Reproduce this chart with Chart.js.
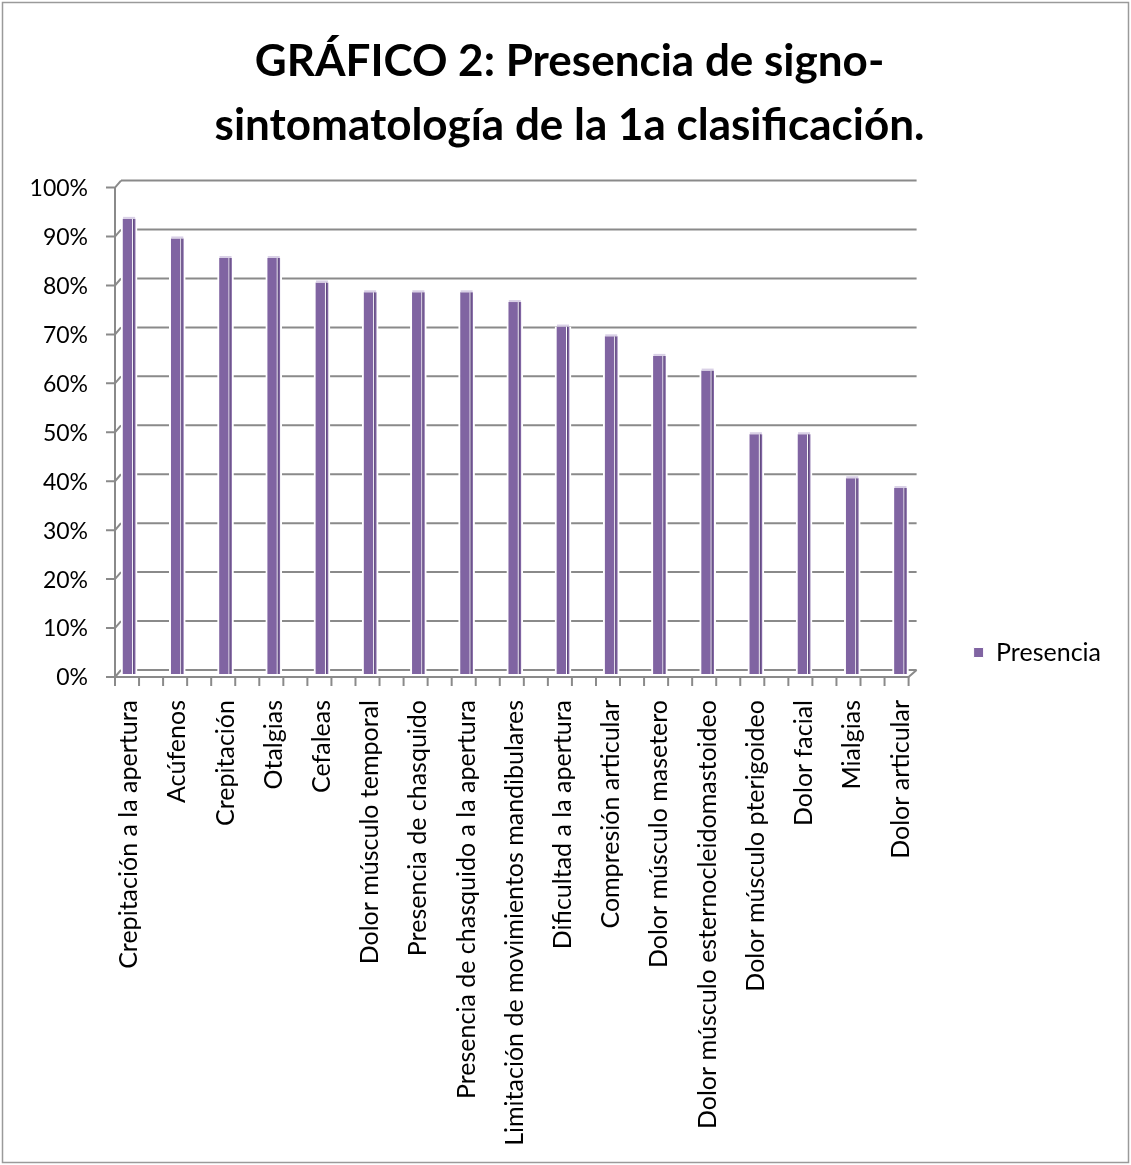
<!DOCTYPE html>
<html>
<head>
<meta charset="utf-8">
<script src="https://cdn.jsdelivr.net/npm/chart.js"></script>
<style>
  html, body { margin: 0; padding: 0; background: #fff; }
  #wrap { width: 1131px; height: 1165px; position: relative; }
</style>
</head>
<body>
<div id="wrap"><canvas id="chart"></canvas></div>
<script>
// data
const categories = [
  'Crepitación a la apertura', 'Acúfenos', 'Crepitación', 'Otalgias', 'Cefaleas',
  'Dolor músculo temporal', 'Presencia de chasquido', 'Presencia de chasquido a la apertura',
  'Limitación de movimientos mandibulares', 'Dificultad a la apertura', 'Compresión articular',
  'Dolor músculo masetero', 'Dolor músculo esternocleidomastoideo', 'Dolor músculo pterigoideo',
  'Dolor facial', 'Mialgias', 'Dolor articular'
];
const presencia = [93, 89, 85, 85, 80, 78, 78, 78, 76, 71, 69, 65, 62, 49, 49, 40, 38];
const yTicks = [0, 10, 20, 30, 40, 50, 60, 70, 80, 90, 100];
const titleLines = ['GRÁFICO 2: Presencia de signo-', 'sintomatología de la 1a clasificación.'];

const FONT = 'Lato, "Open Sans", sans-serif';
const GRID = '#8a8a8a';

// 3D-looking frame like the Excel original: front axis + back wall grid
const frame3d = {
  id: 'frame3d',
  beforeDraw(chart) {
    const ctx = chart.ctx;
    ctx.save();
    ctx.fillStyle = '#fff';
    ctx.fillRect(0, 0, chart.width, chart.height);
    ctx.strokeStyle = '#9a9a9a';
    ctx.lineWidth = 1.5;
    ctx.strokeRect(2.5, 2.5, chart.width - 5, chart.height - 5);
    ctx.restore();
  },
  beforeDatasetsDraw(chart) {
    const {ctx, chartArea: a, scales: {y}} = chart;
    const frontX = a.left + 10, backX = a.left + 16;
    const rightFront = a.right - 16, rightBack = a.right - 8;
    ctx.save();
    ctx.strokeStyle = GRID;
    ctx.lineWidth = 2;
    yTicks.forEach(v => {
      const p = y.getPixelForValue(v);
      ctx.beginPath();
      ctx.moveTo(backX, p - 4);
      ctx.lineTo(rightBack, p - 4);
      ctx.stroke();
      ctx.beginPath();
      ctx.moveTo(frontX - 9, p + 3);
      ctx.lineTo(frontX, p + 3);
      ctx.lineTo(backX, p - 4);
      ctx.stroke();
    });
    const top = y.getPixelForValue(100) + 3, base = y.getPixelForValue(0) + 3;
    ctx.beginPath();
    ctx.moveTo(frontX, top);
    ctx.lineTo(frontX, base);
    ctx.lineTo(rightFront, base);
    ctx.lineTo(rightBack, base - 7);
    ctx.stroke();
    const n = 33;
    for (let i = 0; i <= n; i++) {
      const x = frontX + (rightFront - frontX) * i / n;
      ctx.beginPath();
      ctx.moveTo(x, base);
      ctx.lineTo(x, base + 9);
      ctx.stroke();
    }
    ctx.restore();
  },
  afterDatasetsDraw(chart) {
    const ctx = chart.ctx;
    ctx.save();
    chart.getDatasetMeta(0).data.forEach(bar => {
      const r = bar.x + 6;
      ctx.fillStyle = '#ffffff';
      ctx.fillRect(r - 3, bar.y, 1, bar.base - bar.y);
      ctx.fillStyle = '#5f4a7d';
      ctx.fillRect(r - 2, bar.y, 1, bar.base - bar.y);
      ctx.fillStyle = '#d9d0e6';
      ctx.fillRect(bar.x - 6, bar.y - 2, 12, 2);
    });
    ctx.restore();
  }
};

new Chart(document.getElementById('chart'), {
  type: 'bar',
  data: {
    labels: categories,
    datasets: [{
      label: 'Presencia',
      data: presencia,
      backgroundColor: '#8064a2',
      borderColor: '#ffffff',
      borderWidth: {left: 2, right: 2, top: 0, bottom: 0},
      borderSkipped: false,
      barThickness: 16
    }]
  },
  options: {
    responsive: true,
    maintainAspectRatio: false,
    animation: false,
    layout: {padding: {left: 28, right: 20, top: 0, bottom: 0}},
    plugins: {
      title: {
        display: true,
        text: titleLines,
        color: '#000',
        font: {family: FONT, size: 44, weight: 'bold', lineHeight: 1.45},
        padding: {top: 30, bottom: 27}
      },
      legend: {
        display: true,
        position: 'right',
        align: 'end',
        fullSize: false,
        labels: {
          boxWidth: 10,
          boxHeight: 10,
          padding: 9,
          color: '#000',
          font: {family: FONT, size: 25}
        }
      },
      tooltip: {enabled: false}
    },
    scales: {
      x: {
        grid: {display: false, drawTicks: false},
        border: {display: false},
        ticks: {
          autoSkip: false,
          minRotation: 90,
          maxRotation: 90,
          padding: 26,
          color: '#000',
          font: {family: FONT, size: 25}
        },
        afterFit(scale) { scale.height = 491; }
      },
      y: {
        min: 0,
        max: 100,
        grid: {display: false, drawTicks: false},
        border: {display: false},
        ticks: {
          stepSize: 10,
          padding: 17,
          labelOffset: 4,
          color: '#000',
          font: {family: FONT, size: 23},
          callback: v => v + '%'
        },
        afterFit(scale) { scale.width = 77; }
      },
      spacer: {
        type: 'linear',
        position: 'right',
        display: true,
        grid: {display: false, drawTicks: false},
        border: {display: false},
        ticks: {display: false},
        afterFit(scale) { scale.width = 40; }
      }
    }
  },
  plugins: [frame3d]
});
</script>
</body>
</html>
